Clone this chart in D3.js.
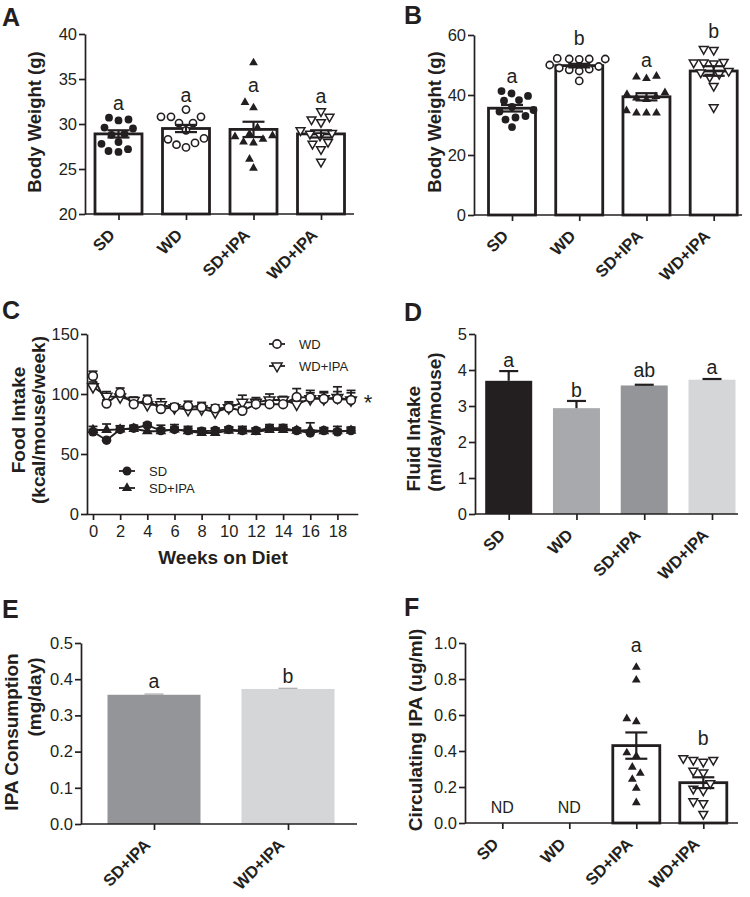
<!DOCTYPE html>
<html><head><meta charset="utf-8">
<script src="https://cdn.jsdelivr.net/npm/d3@7"></script>
<style>
body{margin:0;background:#fff}
svg text{font-family:"Liberation Sans",Arial,Helvetica,sans-serif;fill:#231f20}
</style>
</head><body>
<svg id="c" width="750" height="897"></svg>
<script>
// ---------------- DATA ----------------
const groups = ["SD","WD","SD+IPA","WD+IPA"];
const groupsIPA = ["SD+IPA","WD+IPA"];

// Panel A: body weight at start (g)
const aSD    = [30.7,30.5,30.4,29.6,29.5,28.9,28.8,28.0,27.8,27.2,26.9,27.0];
const aWD    = [31.6,30.8,30.8,30.8,30.1,30.1,29.3,28.4,28.3,27.9,27.4,27.7];
const aSDIPA = [36.8,32.4,31.8,29.6,28.9,28.7,28.6,28.3,28.0,27.9,26.1,25.1];
const aWDIPA = [31.4,30.8,30.5,30.2,29.3,29.0,28.9,28.7,28.0,27.8,27.2,25.8];
const aMean  = [28.9,29.5,29.4,28.9];
const aSem   = [0.4,0.4,0.85,0.4];
const aLetters = ["a","a","a","a"];
const aLetterY = [31.6,32.4,33.6,32.3];
const aTicks = [20,25,30,35,40];

// Panel B: body weight at end (g)
const bSD    = [41.3,40.5,39.7,38.3,38.1,36.0,35.0,34.5,33.0,32.5,31.8,29.3];
const bWD    = [52.0,52.2,52.0,51.9,52.0,50.0,49.5,49.0,48.6,48.4,48.0,44.7];
const bSDIPA = [46.3,45.5,46.0,40.8,40.2,39.5,39.0,38.5,34.8,34.0,34.0,34.0];
const bWDIPA = [55.3,55.0,51.0,50.8,50.5,50.8,48.0,47.5,47.0,46.0,43.0,35.9];
const bMean  = [35.6,49.8,39.4,48.0];
const bSem   = [1.1,0.6,1.2,1.6];
const bLetters = ["a","b","a","b"];
const bLetterY = [43.9,56.7,49.4,58.9];
const bTicks = [0,20,40,60];

// Panel C: food intake per week
const weeks = [0,1,2,3,4,5,6,7,8,9,10,11,12,13,14,15,16,17,18,19];
const cWD       = [115,92,101,91.5,95,87.5,89,90,89,88,88.5,86,91.5,91.5,91.5,97.5,97,96,96,95];
const cWDsem    = [4,3,4,3,4,4,3,4,4,3,4,3,4,4,3,7,6,6,6,6];
const cWDIPA    = [106,98,97.5,94.5,91,91,88.5,87,87.5,85,88.5,93,93,95,95,91.5,96,96,97,95];
const cWDIPAsem = [4,4,4,3,3,5,3,4,4,4,5,6,4,5,3,4,5,5,9,8];
const cSD       = [68.5,61.5,70.5,71.5,74,69.5,70.5,69.5,69,69.5,70.5,69.5,69.5,71.5,71.5,69.5,67.5,69.5,68.5,69.5];
const cSDsem    = [2,2,3,2,2,2,2,2,2,2,2,2,2,3,3,2,2,2,2,2];
const cSDIPA    = [70,70,70.5,71,69,69,70.5,69,67.5,67.5,69.5,69,68.5,70,70,69.5,70,69,69,69.5];
const cSDIPAsem = [3,5,3,3,4,5,4,4,4,4,3,4,3,3,3,2,6,3,4,3];
const cYTicks = [0,50,100,150];
const cXTicks = [0,2,4,6,8,10,12,14,16,18];

// Panel D: fluid intake
const dMean = [3.70,2.94,3.57,3.73];
const dSem  = [0.27,0.20,0.02,0.02];
const dLetters = ["a","b","ab","a"];
const dLetterY = [4.09,3.26,3.80,3.89];
const dColors = ["#231f20","#a7a9ac","#939598","#d5d6d8"];
const dTicks = [0,1,2,3,4,5];

// Panel E: IPA consumption
const eMean = [0.357,0.373];
const eSem  = [0.002,0.002];
const eLetters = ["a","b"];
const eLetterY = [0.375,0.389];
const eColors = ["#939598","#d5d6d8"];
const eTicks = [0,0.1,0.2,0.3,0.4,0.5];

// Panel F: circulating IPA
const fSDIPA = [0.865,0.794,0.58,0.563,0.39,0.372,0.31,0.276,0.243,0.193,0.113];
const fWDIPA = [0.36,0.35,0.34,0.35,0.29,0.28,0.22,0.19,0.18,0.12,0.11,0.05];
const fMean  = [null,null,0.43,0.224];
const fSem   = [0,0,0.073,0.03];
const fLetters = ["","","a","b"];
const fLetterY = [0,0,0.95,0.433];
const fND = ["ND","ND","",""];
const fTicks = [0,0.2,0.4,0.6,0.8,1.0];

// ---------------- DRAWING ----------------
const INK = "#231f20";
const svg = d3.select("#c");

function yAxis(y, x0, ticks, fmt) {
  const ax = svg.append("g").attr("transform", `translate(${x0},0)`)
    .call(d3.axisLeft(y).tickValues(ticks).tickSize(6).tickSizeOuter(0).tickFormat(fmt || d3.format("")));
  ax.select(".domain").attr("stroke", INK).attr("stroke-width", 1.7);
  ax.selectAll(".tick line").attr("stroke", INK).attr("stroke-width", 1.7);
  ax.selectAll(".tick text").attr("font-size", 16.5).attr("x", -8).attr("fill", INK)
    .style("font-family", '"Liberation Sans",Arial,sans-serif');
}
function xAxisCat(x, yPix, x0, x1) {
  svg.append("line").attr("x1", x0).attr("x2", x1).attr("y1", yPix).attr("y2", yPix)
    .attr("stroke", INK).attr("stroke-width", 1.7);
  const ax = svg.append("g").attr("transform", `translate(0,${yPix})`)
    .call(d3.axisBottom(x).tickSize(6).tickSizeOuter(0));
  ax.select(".domain").remove();
  ax.selectAll(".tick line").attr("stroke", INK).attr("stroke-width", 1.7);
  ax.selectAll(".tick text").attr("font-size", 16.5).attr("font-weight", "bold")
    .style("font-family", '"Liberation Sans",Arial,sans-serif')
    .attr("text-anchor", "end").attr("x", 0).attr("y", 0).attr("dy", 0)
    .attr("transform", "translate(-3,22) rotate(-45)");
}
function yTitle(x, yc, text, size) {
  svg.append("text").attr("transform", `translate(${x},${yc}) rotate(-90)`)
    .attr("text-anchor", "middle").attr("font-weight", "bold").attr("font-size", size || 19).text(text);
}
function panelLetter(x, y, t) {
  svg.append("text").attr("x", x).attr("y", y).attr("font-size", 25).attr("font-weight", "bold").text(t);
}
function tri(cx, cy, s, up) {
  const h = s * 0.866;
  if (up) return `M${cx},${cy - 2*h/3}L${cx + s/2},${cy + h/3}L${cx - s/2},${cy + h/3}Z`;
  return `M${cx},${cy + 2*h/3}L${cx + s/2},${cy - h/3}L${cx - s/2},${cy - h/3}Z`;
}
function marker(g, type, cx, cy, k) {
  k = k || 1;
  if (type === "circle") g.append("circle").attr("cx", cx).attr("cy", cy).attr("r", 3.9*k).attr("fill", INK);
  else if (type === "ocircle") g.append("circle").attr("cx", cx).attr("cy", cy).attr("r", 3.6*k)
    .attr("fill", "#fff").attr("stroke", INK).attr("stroke-width", 1.6);
  else if (type === "tri") g.append("path").attr("d", tri(cx, cy, 8.8*k, true)).attr("fill", INK);
  else if (type === "itri") g.append("path").attr("d", tri(cx, cy, 8.8*k, false))
    .attr("fill", "#fff").attr("stroke", INK).attr("stroke-width", 1.5);
}
// simple beeswarm: returns x offsets for pixel y positions
function swarm(ys, d) {
  const order = ys.map((y, i) => ({ y, i })).sort((a, b) => b.y - a.y);
  const placed = [], xs = new Array(ys.length);
  for (const p of order) {
    let off = 0;
    for (let s = 0; s < 400; s++) {
      const o = s === 0 ? 0 : (s % 2 ? -1 : 1) * Math.ceil(s / 2) * 0.5;
      if (placed.every(q => (q.x - o) ** 2 + (q.y - p.y) ** 2 >= d * d)) { off = o; break; }
    }
    placed.push({ x: off, y: p.y }); xs[p.i] = off;
  }
  return xs;
}
const markerTypes = ["circle", "ocircle", "tri", "itri"];

function scatterBar(x, y, dotSets, means, sems, letters, letterY, barW) {
  const g = svg.append("g");
  groups.forEach((grp, i) => {
    const cx = x(grp);
    if (means[i] != null) {
      g.append("rect").attr("x", cx - barW/2).attr("width", barW)
        .attr("y", y(means[i])).attr("height", y.range()[0] - y(means[i]))
        .attr("fill", "#fff").attr("stroke", INK).attr("stroke-width", 2.8);
    }
    const vals = dotSets[i];
    if (vals) {
      const ys = vals.map(v => y(v));
      const offs = swarm(ys, 9.8);
      vals.forEach((v, j) => marker(g, markerTypes[i], cx + offs[j], ys[j]));
    }
    if (means[i] != null && sems[i] > 0) {
      const y1 = y(means[i] + sems[i]), y2 = y(means[i] - sems[i]);
      g.append("line").attr("x1", cx).attr("x2", cx).attr("y1", y1).attr("y2", y2).attr("stroke", INK).attr("stroke-width", 2.2);
      [y1, y2].forEach(yy => g.append("line").attr("x1", cx - 11).attr("x2", cx + 11).attr("y1", yy).attr("y2", yy)
        .attr("stroke", INK).attr("stroke-width", 2.2));
    }
    if (letters[i]) g.append("text").attr("x", cx).attr("y", y(letterY[i])).attr("text-anchor", "middle")
      .attr("font-size", 19.5).text(letters[i]);
  });
}

// ---- Panel A ----
{
  const x = d3.scalePoint().domain(groups).range([118.5, 321]);
  const y = d3.scaleLinear().domain([20, 40]).range([214, 34]);
  scatterBar(x, y, [aSD, aWD, aSDIPA, aWDIPA], aMean, aSem, aLetters, aLetterY, 47);
  yAxis(y, 85, aTicks);
  xAxisCat(x, 214, 85, 354);
  yTitle(41, 122, "Body Weight (g)", 18.5);
  panelLetter(2, 26, "A");
}
// ---- Panel B ----
{
  const x = d3.scalePoint().domain(groups).range([512, 713.7]);
  const y = d3.scaleLinear().domain([0, 60]).range([215, 35]);
  scatterBar(x, y, [bSD, bWD, bSDIPA, bWDIPA], bMean, bSem, bLetters, bLetterY, 47);
  yAxis(y, 474, bTicks);
  xAxisCat(x, 215, 474, 742);
  yTitle(441, 122, "Body Weight (g)", 18.5);
  panelLetter(404, 24, "B");
}
// ---- Panel C ----
{
  const x = d3.scaleLinear().domain([-0.5, 19.5]).range([86.2, 357.8]);
  const y = d3.scaleLinear().domain([0, 150]).range([514, 334]);
  const g = svg.append("g");
  const series = [
    { m: cSDIPA, s: cSDIPAsem, type: "tri" },
    { m: cSD, s: cSDsem, type: "circle" },
    { m: cWDIPA, s: cWDIPAsem, type: "itri" },
    { m: cWD, s: cWDsem, type: "ocircle" }
  ];
  const line = d3.line().x((d, i) => x(weeks[i])).y(d => y(d));
  series.forEach(se => {
    se.m.forEach((v, i) => {
      const cx = x(weeks[i]), yt = y(v + se.s[i]);
      g.append("line").attr("x1", cx).attr("x2", cx).attr("y1", y(v)).attr("y2", yt).attr("stroke", INK).attr("stroke-width", 1.7);
      g.append("line").attr("x1", cx - 4.5).attr("x2", cx + 4.5).attr("y1", yt).attr("y2", yt).attr("stroke", INK).attr("stroke-width", 1.7);
    });
  });
  series.forEach(se => {
    g.append("path").attr("d", line(se.m)).attr("fill", "none").attr("stroke", INK).attr("stroke-width", 1.9);
    se.m.forEach((v, i) => marker(g, se.type, x(weeks[i]), y(v), 1.22));
  });
  yAxis(y, 87, cYTicks);
  const ax = svg.append("g").attr("transform", "translate(0,514)")
    .call(d3.axisBottom(x).tickValues(cXTicks).tickSize(6).tickSizeOuter(0));
  ax.select(".domain").attr("stroke", INK).attr("stroke-width", 1.7);
  ax.selectAll(".tick line").attr("stroke", INK).attr("stroke-width", 1.7);
  ax.selectAll(".tick text").attr("font-size", 16.5).attr("y", 11)
    .style("font-family", '"Liberation Sans",Arial,sans-serif');
  svg.append("text").attr("x", 223).attr("y", 564).attr("text-anchor", "middle")
    .attr("font-size", 19).attr("font-weight", "bold").text("Weeks on Diet");
  yTitle(25, 420, "Food Intake", 19);
  yTitle(45, 420, "(kcal/mouse/week)", 19);
  panelLetter(2, 319, "C");
  // legends
  const leg = [
    { t: "WD", type: "ocircle", x0: 269, y0: 344 },
    { t: "WD+IPA", type: "itri", x0: 269, y0: 366 },
    { t: "SD", type: "circle", x0: 119, y0: 471 },
    { t: "SD+IPA", type: "tri", x0: 119, y0: 488 }
  ];
  leg.forEach(l => {
    svg.append("line").attr("x1", l.x0).attr("x2", l.x0 + 16).attr("y1", l.y0).attr("y2", l.y0).attr("stroke", INK).attr("stroke-width", 1.8);
    marker(svg, l.type, l.x0 + 8, l.y0, 1.15);
    svg.append("text").attr("x", l.x0 + 30).attr("y", l.y0 + 4.5).attr("font-size", 13).text(l.t);
  });
  svg.append("text").attr("x", 368).attr("y", 410).attr("text-anchor", "middle").attr("font-size", 22).text("*");
}
// ---- Panel D ----
{
  const x = d3.scalePoint().domain(groups).range([508.7, 712]);
  const y = d3.scaleLinear().domain([0, 5]).range([514, 334]);
  groups.forEach((grp, i) => {
    const cx = x(grp);
    svg.append("rect").attr("x", cx - 23.5).attr("width", 47).attr("y", y(dMean[i]))
      .attr("height", y(0) - y(dMean[i])).attr("fill", dColors[i]);
    const yt = y(dMean[i] + dSem[i]);
    svg.append("line").attr("x1", cx).attr("x2", cx).attr("y1", y(dMean[i])).attr("y2", yt).attr("stroke", INK).attr("stroke-width", 2.2);
    svg.append("line").attr("x1", cx - 9.5).attr("x2", cx + 9.5).attr("y1", yt).attr("y2", yt).attr("stroke", INK).attr("stroke-width", 2.2);
    svg.append("text").attr("x", cx).attr("y", y(dLetterY[i])).attr("text-anchor", "middle").attr("font-size", 19.5).text(dLetters[i]);
  });
  yAxis(y, 475, dTicks);
  xAxisCat(x, 514, 475, 738);
  yTitle(420, 438.7, "Fluid Intake", 19);
  yTitle(441, 422, "(ml/day/mouse)", 19);
  panelLetter(404, 321, "D");
}
// ---- Panel E ----
{
  const x = d3.scalePoint().domain(groupsIPA).range([154, 288]);
  const y = d3.scaleLinear().domain([0, 0.5]).range([824, 643]);
  groupsIPA.forEach((grp, i) => {
    const cx = x(grp);
    svg.append("rect").attr("x", cx - 46.5).attr("width", 93).attr("y", y(eMean[i]))
      .attr("height", y(0) - y(eMean[i])).attr("fill", eColors[i]);
    const yt = y(eMean[i] + eSem[i]);
    svg.append("line").attr("x1", cx - 9.5).attr("x2", cx + 9.5).attr("y1", yt).attr("y2", yt).attr("stroke", "#999").attr("stroke-width", 1);
    svg.append("text").attr("x", cx).attr("y", y(eLetterY[i])).attr("text-anchor", "middle").attr("font-size", 19.5).text(eLetters[i]);
  });
  yAxis(y, 81, eTicks, d3.format(".1f"));
  xAxisCat(x, 824, 81, 357);
  yTitle(18, 732, "IPA Consumption", 19);
  yTitle(41, 697, "(mg/day)", 19);
  panelLetter(2, 618, "E");
}
// ---- Panel F ----
{
  const x = d3.scalePoint().domain(groups).range([502.3, 703.3]);
  const y = d3.scaleLinear().domain([0, 1]).range([823, 643]);
  scatterBar(x, y, [null, null, fSDIPA, fWDIPA], fMean, fSem, fLetters, fLetterY, 47);
  groups.forEach((grp, i) => {
    if (fND[i]) svg.append("text").attr("x", x(grp)).attr("y", 813).attr("text-anchor", "middle").attr("font-size", 16).text(fND[i]);
  });
  yAxis(y, 465, fTicks, d3.format(".1f"));
  xAxisCat(x, 823, 465, 738);
  yTitle(422, 730, "Circulating IPA (ug/ml)", 19);
  panelLetter(404, 616, "F");
}
</script>
</body></html>
